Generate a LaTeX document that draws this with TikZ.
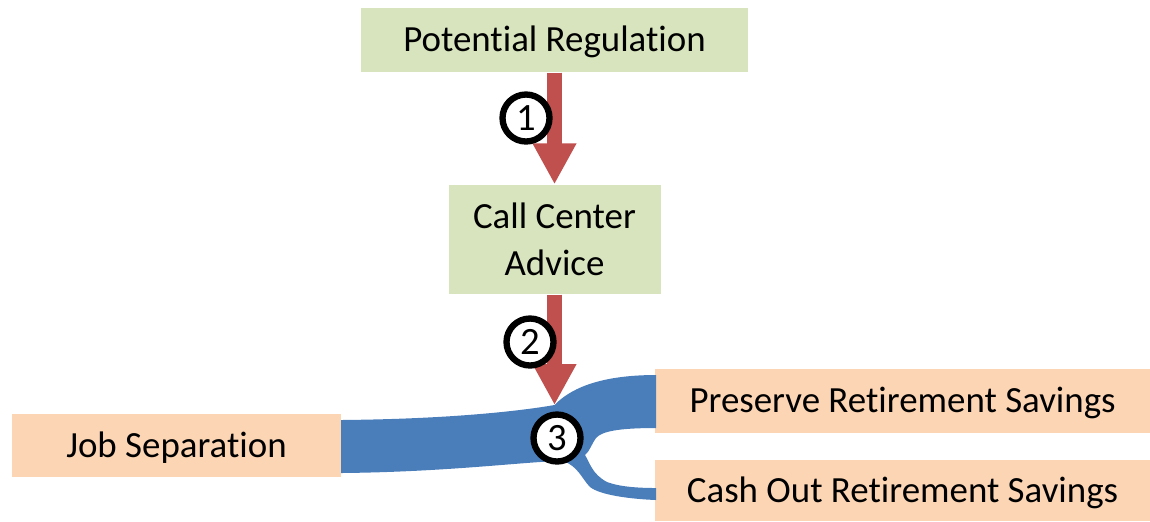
\documentclass[tikz,border=0pt]{standalone}
\usepackage{fontspec}
\setmainfont{Carlito}[Ligatures={NoCommon}]
\usetikzlibrary{arrows.meta}
\definecolor{boxgreen}{HTML}{D7E4BD}
\definecolor{boxorange}{HTML}{FCD5B5}
\definecolor{flowblue}{HTML}{4A7EBB}
\definecolor{arrowred}{HTML}{C0504D}
\begin{document}
\begin{tikzpicture}[line join=round,
	greenbox/.style={fill=boxgreen,inner sep=0pt,align=center,font=\fontsize{10.5}{13.4}\selectfont},
	orangebox/.style={fill=boxorange,inner sep=0pt,text height=0.66em,text depth=0pt,font=\fontsize{10.5}{13.4}\selectfont},
	num/.style={circle,draw=black,line width=1.8pt,fill=white,minimum size=0.47cm,inner sep=0pt,font=\fontsize{11}{12}\selectfont},
	redarrow/.style={draw=arrowred,line width=0.15cm,-{Triangle[width=0.41cm,length=0.41cm]}}]
	\useasboundingbox (0,0) rectangle (11.5,5.21);
	
	\node[greenbox,text height=0.66em,text depth=0pt,minimum width=3.87cm,minimum height=0.64cm] (reg) at (5.545,4.81) {Potential Regulation};
	\node[greenbox,minimum width=2.12cm,minimum height=1.09cm] (call) at (5.545,2.815) {Call Center\\Advice};
	\node[orangebox,minimum width=3.29cm,minimum height=0.63cm] (job) at (1.765,0.755) {Job Separation};
	\node[orangebox,minimum width=4.95cm,minimum height=0.64cm] (keep) at (9.025,1.20) {Preserve Retirement Savings};
	\node[orangebox,minimum width=4.95cm,minimum height=0.61cm] (cash) at (9.025,0.305) {Cash Out Retirement Savings};
	\coordinate (split) at (5.545,1.16);
	
	% flow of savings
	\fill[flowblue] (3.41,1.01) .. controls (4.5,1.02) and (5.2,1.10) .. (split)
	.. controls (5.68,1.30) and (5.95,1.46) .. (6.56,1.46)
	-- (6.56,0.93) .. controls (6.20,0.93) and (6.02,0.90) .. (5.96,0.83)
	.. controls (5.92,0.78) and (5.90,0.70) .. (5.85,0.66)
	.. controls (5.90,0.58) and (5.92,0.47) .. (6.07,0.39)
	.. controls (6.20,0.34) and (6.40,0.33) .. (6.56,0.33)
	-- (6.56,0.21) .. controls (6.30,0.22) and (6.00,0.26) .. (5.90,0.34)
	.. controls (5.82,0.42) and (5.78,0.55) .. (5.63,0.60)
	.. controls (5.30,0.60) and (4.50,0.49) .. (3.41,0.48) -- cycle;
	
	\draw[redarrow] (reg.south) -- (call.north);
	\draw[redarrow] (call.south) -- (split);
	
	\node[num] (n1) at (5.26,4.03) {1};
	\node[num] (n2) at (5.30,1.79) {2};
	\node[num] (n3) at (5.57,0.83) {3};
\end{tikzpicture}
\end{document}
